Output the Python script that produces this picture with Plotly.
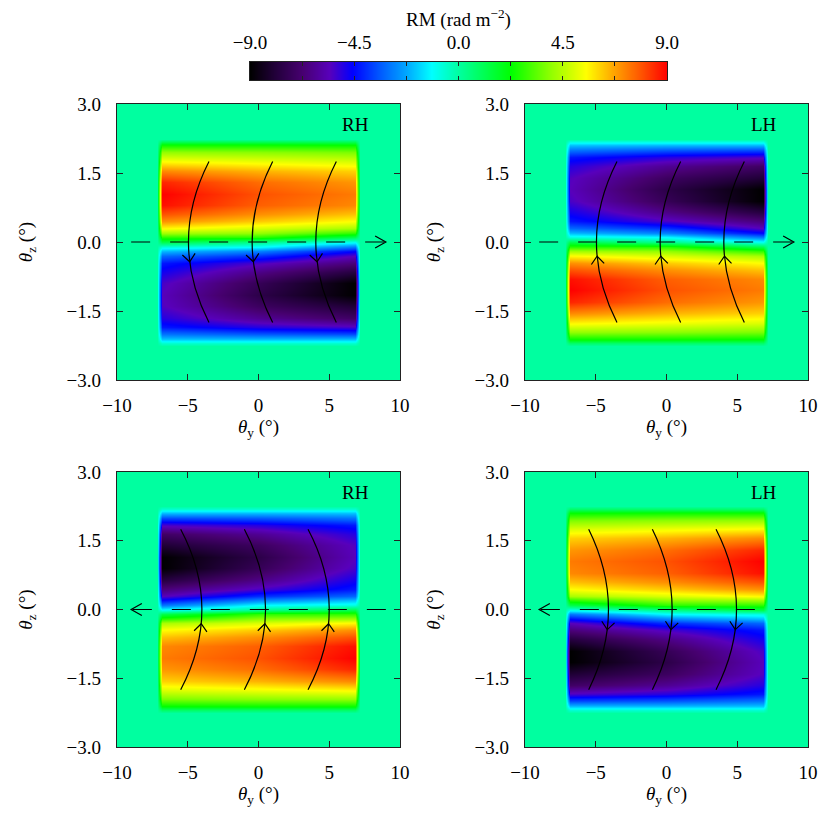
import numpy as np
import plotly.graph_objects as go

# ------------------------------------------------------------------ data
# sample grid (degrees) read off the top-left (RH) panel
theta_y_nodes = [-10.0, -7.2, -6.85, 0.0, 6.85, 7.2, 10.0]
theta_z_nodes = [-3.0, -2.25, -2.2, -2.1, -2.0, -1.85, -1.65, -1.4, -1.15, -0.9,
                 -0.65, -0.45, -0.3, -0.2, -0.1, 0.0, 0.1, 0.2, 0.3, 0.45,
                 0.6, 0.8, 1.05, 1.3, 1.55, 1.75, 1.95, 2.1, 2.2, 2.25, 3.0]
# RM (rad m^-2) along theta_z at theta_y = -6.85, 0, +6.85 (top-left panel)
rm_col_left = [0, 0, -0.6, -1.9, -3.0, -4.3, -5.0, -5.5, -5.6, -5.4,
               -4.8, -4.3, -3.2, -2.0, -0.8, 1.2, 2.8, 4.2, 5.6, 7.0,
               7.9, 8.8, 9.0, 8.5, 7.1, 5.6, 4.0, 2.4, 0.8, 0, 0]
rm_col_mid = [0, 0, -0.6, -2.0, -3.4, -5.0, -6.2, -7.1, -7.6, -7.3,
              -6.4, -5.4, -4.0, -2.8, -1.2, 0.3, 2.8, 4.0, 5.0, 6.2,
              7.0, 7.7, 7.9, 7.5, 6.5, 5.3, 3.9, 2.4, 0.8, 0, 0]
rm_col_right = [0, 0, -0.6, -2.0, -3.6, -5.4, -7.0, -8.0, -9.0, -9.0,
                -7.8, -6.6, -5.6, -4.5, -3.0, -1.0, 1.2, 2.8, 4.3, 5.5,
                6.3, 7.1, 7.3, 6.9, 6.1, 5.0, 3.7, 2.3, 0.8, 0, 0]

cbar_ends = [-9.0, 9.0]
cbar_major = [-9.0, -4.5, 0.0, 4.5, 9.0]
cbar_minor = [-6.75, -2.25, 2.25, 6.75]
x_ticks = [-10, -5, 0, 5, 10]
z_ticks = [-3.0, -1.5, 0.0, 1.5, 3.0]

panel_names = ['TL', 'TR', 'BL', 'BR']
panel_labels = {'TL': 'RH', 'TR': 'LH', 'BL': 'RH', 'BR': 'LH'}
field_top_x = {'TL': [-3.5, 1.0, 5.5], 'TR': [-3.5, 1.0, 5.5],
               'BL': [-5.5, -1.0, 3.5], 'BR': [-5.5, -1.0, 3.5]}
field_mid_x = {'TL': [-4.95, -0.45, 4.05], 'TR': [-4.95, -0.45, 4.05],
               'BL': [-4.0, 0.5, 5.0], 'BR': [-4.1, 0.4, 4.95]}
field_half_z = 1.75
field_dir = {'TL': -1, 'TR': 1, 'BL': 1, 'BR': -1}
field_tip_z = {'TL': -0.43, 'TR': -0.31, 'BL': -0.31, 'BR': -0.44}
los_dir = {'TL': 1, 'TR': 1, 'BL': -1, 'BR': -1}
los_end = 9.0

# ------------------------------------------------------------------ fields
nz = len(theta_z_nodes)
zero = [0.0] * nz
rm_tl = np.array([zero, zero, rm_col_left, rm_col_mid, rm_col_right, zero, zero]).T
ty = np.array(theta_y_nodes)
tz = np.array(theta_z_nodes)
fields = {
    'TL': (ty, tz, rm_tl),
    'TR': (ty, -tz[::-1], rm_tl[::-1, :]),
    'BL': (-ty[::-1], -tz[::-1], rm_tl[::-1, ::-1]),
    'BR': (-ty[::-1], tz, rm_tl[:, ::-1]),
}

# ------------------------------------------------------------------ layout geometry (px)
S = 830
geom = {
    'TL': (117, 400, 104, 380),
    'TR': (525, 808, 104, 380),
    'BL': (117, 400, 472, 747),
    'BR': (525, 808, 472, 747),
}

colorscale = [
    [0.0, '#000000'], [0.06, '#22003a'], [0.125, '#470070'], [0.19, '#5800bb'],
    [0.245, '#0000ff'], [0.31, '#0058ff'], [0.375, '#00a8ff'], [0.435, '#00ffff'],
    [0.5, '#00ffa0'], [0.625, '#00ff00'], [0.72, '#90ff00'], [0.805, '#ffff00'],
    [0.875, '#ffa000'], [0.94, '#ff5000'], [1.0, '#ff0000'],
]

FONT = 'Liberation Serif'
fig = go.Figure()
shapes = []
annotations = []
layout = dict(
    width=S, height=S, margin=dict(l=0, r=0, t=0, b=0, autoexpand=False),
    paper_bgcolor='white', plot_bgcolor='white', showlegend=False,
    font=dict(family=FONT, size=19, color='black'),
    coloraxis=dict(colorscale=colorscale, cmin=-9, cmax=9, showscale=False),
)

axis_common = dict(showgrid=False, zeroline=False, showline=True, linecolor='#222',
                   linewidth=1.3, ticks='inside', ticklen=6, tickwidth=1.2,
                   tickcolor='#222', mirror='allticks', automargin=False,
                   tickfont=dict(family=FONT, size=19, color='black'))

for i, name in enumerate(panel_names):
    n = '' if i == 0 else str(i + 1)
    xa, ya = 'x' + n, 'y' + n
    x0p, x1p, y0p, y1p = geom[name]
    fx, fz, fv = fields[name]
    fig.add_trace(go.Heatmap(x=fx, y=fz, z=fv, coloraxis='coloraxis', zsmooth='best',
                             xaxis=xa, yaxis=ya, hoverinfo='skip'))
    layout['xaxis' + n] = dict(axis_common, domain=[x0p / S, x1p / S], anchor=ya,
                               range=[-10, 10], tickvals=x_ticks, ticklabelstandoff=8,
                               title=dict(text='<i>θ</i><sub>y</sub> (°)', standoff=4,
                                          font=dict(family=FONT, size=19)))
    layout['yaxis' + n] = dict(axis_common, domain=[1 - y1p / S, 1 - y0p / S], anchor=xa,
                               range=[-3, 3], tickvals=z_ticks, tickformat='.1f',
                               ticklabelstandoff=11,
                               title=dict(text='<i>θ</i><sub>z</sub> (°)', standoff=28,
                                          font=dict(family=FONT, size=19)))
    sx = (x1p - x0p) / 20.0
    sz = (y1p - y0p) / 6.0
    lw = dict(color='black', width=1.2)

    # line of sight dashed line and arrow
    d = los_dir[name]
    shapes.append(dict(type='line', xref=xa, yref=ya, x0=-los_end * d, x1=los_end * d,
                       y0=0, y1=0, line=dict(color='black', width=1.2, dash='19px,20px')))
    tipx = los_end * d
    bx = tipx - d * 10.7 / sx
    by = 6.0 / sz
    shapes.append(dict(type='path', xref=xa, yref=ya, line=lw,
                       path=f'M {bx},{by} L {tipx},0 L {bx},{-by}'))

    # field lines (quadratic arcs) and arrowheads
    for xt, xc in zip(field_top_x[name], field_mid_x[name]):
        cx = 2 * xc - xt
        shapes.append(dict(type='path', xref=xa, yref=ya, line=lw,
                           path=f'M {xt},{field_half_z} Q {cx},0 {xt},{-field_half_z}'))
        a = (xt - xc) / field_half_z ** 2
        zt = field_tip_z[name]
        xtip = xc + a * zt ** 2
        s = field_dir[name]
        dvx = 2 * a * zt * s * sx
        dvy = s * sz
        nrm = np.hypot(dvx, dvy)
        dvx, dvy = dvx / nrm, dvy / nrm
        L, ang = 10.0, np.deg2rad(40)
        pts = []
        for sgn in (1, -1):
            c, si = np.cos(sgn * ang), np.sin(sgn * ang)
            rx = -(dvx * c - dvy * si) * L
            ry = -(dvx * si + dvy * c) * L
            pts.append((xtip + rx / sx, zt + ry / sz))
        shapes.append(dict(type='path', xref=xa, yref=ya, line=lw,
                           path=f'M {pts[0][0]},{pts[0][1]} L {xtip},{zt} L {pts[1][0]},{pts[1][1]}'))

    annotations.append(dict(text=panel_labels[name], xref=xa, yref=ya, x=7.95, y=2.55,
                            xanchor='right', yanchor='middle', showarrow=False,
                            font=dict(family=FONT, size=19, color='black')))

# ------------------------------------------------------------------ colour bar
fig.add_trace(go.Heatmap(x=cbar_ends, y=[0, 1], z=[cbar_ends, cbar_ends],
                         coloraxis='coloraxis', zsmooth='best',
                         xaxis='x5', yaxis='y5', hoverinfo='skip'))
layout['xaxis5'] = dict(axis_common, domain=[250 / S, 667 / S], anchor='y5', side='top',
                        range=[-9, 9], tickvals=cbar_major, tickformat='.1f', ticklen=4,
                        ticklabelstandoff=4,
                        minor=dict(tickvals=cbar_minor, ticks='inside', ticklen=4,
                                   tickwidth=1.2, tickcolor='#222'))
layout['yaxis5'] = dict(showgrid=False, zeroline=False, showline=True, linecolor='#222',
                        linewidth=1.3, mirror=True, ticks='', showticklabels=False,
                        automargin=False,
                        domain=[1 - 80 / S, 1 - 62 / S], anchor='x5', range=[0, 1])
annotations.append(dict(text='RM (rad m<sup>−2</sup>)', xref='paper', yref='paper',
                        x=458.5 / S, y=1 - 33 / S, xanchor='center', yanchor='bottom',
                        showarrow=False, font=dict(family=FONT, size=19, color='black')))

layout['shapes'] = shapes
layout['annotations'] = annotations
fig.update_layout(**layout)
fig.write_html('out.html', config={'displayModeBar': False},
               post_script="document.body.style.margin='0px';document.body.style.overflow='hidden';")
